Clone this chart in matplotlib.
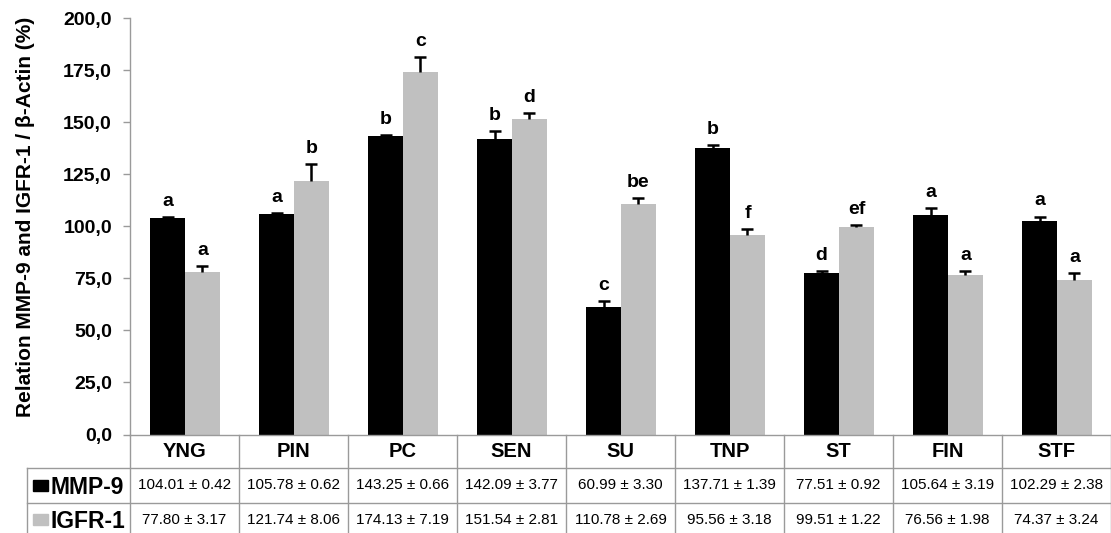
import matplotlib
matplotlib.use("Agg")
import matplotlib.pyplot as plt
from matplotlib.patches import Rectangle
from matplotlib.transforms import blended_transform_factory
from matplotlib.lines import Line2D
import numpy as np

categories = ["YNG", "PIN", "PC", "SEN", "SU", "TNP", "ST", "FIN", "STF"]
mmp9_mean = [104.01, 105.78, 143.25, 142.09, 60.99, 137.71, 77.51, 105.64, 102.29]
mmp9_sem = [0.42, 0.62, 0.66, 3.77, 3.30, 1.39, 0.92, 3.19, 2.38]
igfr1_mean = [77.80, 121.74, 174.13, 151.54, 110.78, 95.56, 99.51, 76.56, 74.37]
igfr1_sem = [3.17, 8.06, 7.19, 2.81, 2.69, 3.18, 1.22, 1.98, 3.24]
mmp9_letters = ["a", "a", "b", "b", "c", "b", "d", "a", "a"]
igfr1_letters = ["a", "b", "c", "d", "be", "f", "ef", "a", "a"]
series_names = ["MMP-9", "IGFR-1"]
yticks = [0, 25, 50, 75, 100, 125, 150, 175, 200]

plt.rcParams['font.family'] = ['Liberation Sans', 'DejaVu Sans']

W, H = 1111, 533
fig = plt.figure(figsize=(W / 100, H / 100), dpi=100)
ax_left, ax_right, y0, y200 = 130, 1111, 434.5, 18
ax = fig.add_axes([ax_left / W, 1 - y0 / H, (ax_right - ax_left) / W, (y0 - y200) / H])

BLACK = "#000000"
GRAY = "#C0C0C0"
LINE = "#9A9A9A"

n = len(categories)
x = np.arange(n) + 0.5
bw = 0.32
xb = x - 0.155
xg = x + 0.165
ax.bar(xb, mmp9_mean, width=bw, color=BLACK, zorder=2)
ax.bar(xg, igfr1_mean, width=bw, color=GRAY, zorder=2)
for xs, means, sems in [(xb, mmp9_mean, mmp9_sem), (xg, igfr1_mean, igfr1_sem)]:
    _, caps, _ = ax.errorbar(xs, means, yerr=[np.zeros(n), sems], fmt='none', ecolor=BLACK,
                             elinewidth=1.8, capsize=4, capthick=1.8, zorder=3)
    caps[0].set_visible(False)

for xi, m, s, l in zip(xb, mmp9_mean, mmp9_sem, mmp9_letters):
    ax.annotate(l, (xi, m + s), xytext=(0, 8), textcoords='offset points',
                ha='center', va='baseline', fontsize=14, fontweight='bold')
for xi, m, s, l in zip(xg, igfr1_mean, igfr1_sem, igfr1_letters):
    ax.annotate(l, (xi, m + s), xytext=(0, 8), textcoords='offset points',
                ha='center', va='baseline', fontsize=14, fontweight='bold')

ax.set_xlim(0, n)
ax.set_ylim(0, 200)
ax.set_yticks(yticks)
ax.set_yticklabels([f"{v:.1f}".replace('.', ',') for v in yticks],
                   fontsize=14, fontweight='bold')
ax.set_xticks([])
ax.tick_params(axis='y', direction='out', length=5, width=1, color=LINE, pad=8)
for sp in ['top', 'right']:
    ax.spines[sp].set_visible(False)
ax.spines['left'].set_color(LINE)
ax.spines['bottom'].set_color(LINE)
ax.spines['left'].set_linewidth(1)
ax.spines['bottom'].set_linewidth(1)

fig.text(26 / W, 1 - 217 / H, "Relation MMP-9 and IGFR-1 / β-Actin (%)",
         rotation=90, ha='center', va='center', fontsize=15, fontweight='bold')

# Data table below the axis
tr = blended_transform_factory(ax.transData, fig.transFigure)
def fy(py):
    return 1 - py / H

row_top = [434.5, 467.7, 503.0]
row_bot = [467.7, 503.0, 536.0]
left_x = (26.7 - ax_left) / ((ax_right - ax_left) / n)

for r in [467.7, 503.0]:
    fig.add_artist(Line2D([left_x, n], [fy(r), fy(r)], transform=tr, color=LINE, lw=1))
for k in range(0, n + 1):
    fig.add_artist(Line2D([k, k], [fy(434.5), fy(536)], transform=tr, color=LINE, lw=1))
fig.add_artist(Line2D([left_x, left_x], [fy(467.7), fy(536)], transform=tr, color=LINE, lw=1))

hc = (row_top[0] + row_bot[0]) / 2
for xi, c in zip(x, categories):
    fig.text(xi, fy(hc), c, transform=tr, ha='center', va='center',
             fontsize=14.5, fontweight='bold')

rows = [(mmp9_mean, mmp9_sem, BLACK), (igfr1_mean, igfr1_sem, GRAY)]
for ri, ((means, sems, col), name) in enumerate(zip(rows, series_names)):
    rc = (row_top[ri + 1] + row_bot[ri + 1]) / 2
    for xi, m, s in zip(x, means, sems):
        fig.text(xi, fy(rc), f"{m:.2f} ± {s:.2f}", transform=tr, ha='center',
                 va='center', fontsize=11)
    fig.add_artist(Rectangle((33.3 / W, fy(rc + 5.5)), 15 / W, 11 / H,
                             transform=fig.transFigure, color=col))
    fig.text(50 / W, fy(rc), name, ha='left', va='center_baseline',
             fontsize=16.5, fontweight='bold')

fig.savefig("out.png", dpi=100)
